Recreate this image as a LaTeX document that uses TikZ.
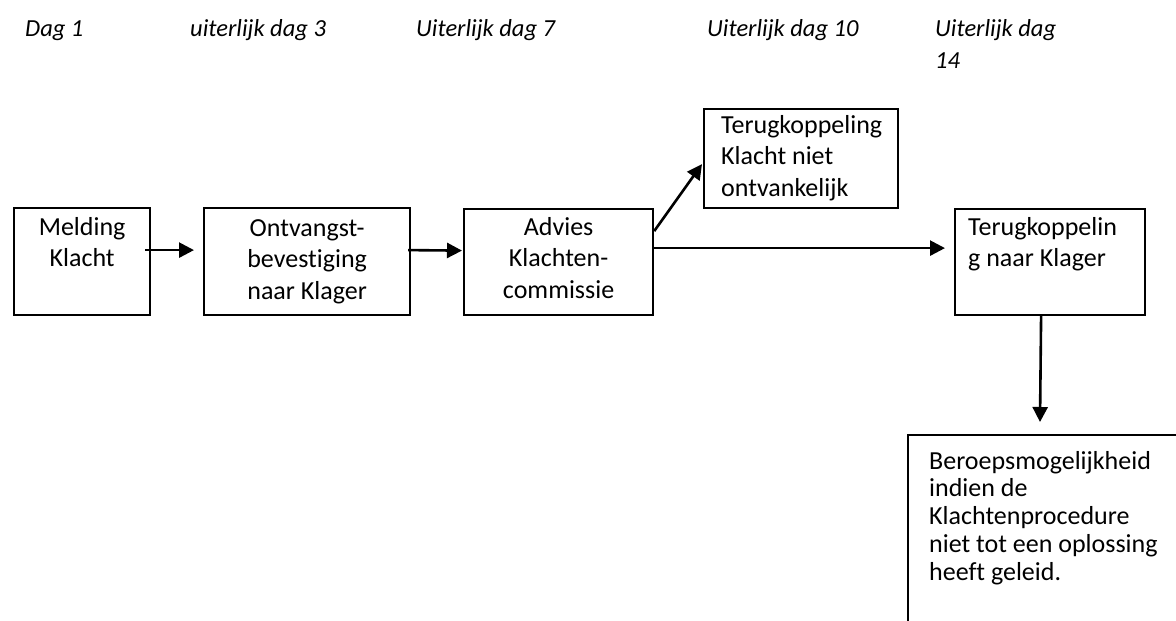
\documentclass[tikz,border=0pt]{standalone}
\usepackage{fontspec}
\setmainfont{Carlito}[Ligatures={NoCommon}]
\usetikzlibrary{arrows.meta}
\begin{document}
\begin{tikzpicture}[x=1pt,y=-1pt,
  box/.style={draw,line width=2.2pt,rectangle,anchor=north west,inner sep=0pt},
  txt/.style={inner sep=0pt,font={\fontsize{26}{31.5}\selectfont}},
  hdr/.style={inner sep=0pt,anchor=north west,align=left,font={\fontsize{24.5}{32}\selectfont\itshape}},
  arr/.style={line width=2.6pt,-{Triangle[length=15pt,width=15pt]}}]
\useasboundingbox (0,0) rectangle (1176,621);
\clip (0,0) rectangle (1176,621);
\fill[white] (0,0) rectangle (1176,621);
% headers (first baseline at 36 -> top = 36-20)
\node[hdr] (h1) at (25,16) {\rule{0pt}{20pt}Dag 1};
\node[hdr] (h2) at (190,16) {\rule{0pt}{20pt}uiterlijk dag 3};
\node[hdr] (h3) at (416,16) {\rule{0pt}{20pt}Uiterlijk dag 7};
\node[hdr] (h4) at (707,16) {\rule{0pt}{20pt}Uiterlijk dag 10};
\node[hdr] (h5) at (935,16) {\rule{0pt}{20pt}Uiterlijk dag\\14};
% boxes
\node[box,minimum width=136pt,minimum height=107pt] (b1) at (13,207) {};
\node[box,minimum width=206pt,minimum height=107pt] (b2) at (203,207) {};
\node[box,minimum width=189pt,minimum height=106pt] (b3) at (463,208) {};
\node[box,minimum width=194pt,minimum height=99pt] (b4) at (703,108) {};
\node[box,minimum width=190pt,minimum height=106pt] (b5) at (954,208) {};
\node[box,minimum width=300pt,minimum height=250pt] (b6) at (907,434) {};
% box texts
\node[txt,anchor=north,align=center] (t1) at ([yshift=-8pt]b1.north) {\rule{0pt}{20pt}Melding\\Klacht};
\node[txt,anchor=north,align=center] (t2) at ([yshift=-9pt]b2.north) {\rule{0pt}{20pt}Ontvangst-\\bevestiging\\naar Klager};
\node[txt,anchor=north,align=center] (t3) at ([yshift=-7pt]b3.north) {\rule{0pt}{20pt}Advies\\Klachten-\\commissie};
\node[txt,anchor=north west,align=left] (t4) at ([xshift=18pt,yshift=-5pt]b4.north west) {\rule{0pt}{20pt}Terugkoppeling\\Klacht niet\\ontvankelijk};
\node[txt,anchor=north west,align=left] (t5) at ([xshift=14pt,yshift=-7pt]b5.north west) {\rule{0pt}{20pt}Terugkoppelin\\g naar Klager};
\node[txt,anchor=north west,align=left,font={\fontsize{26}{27.7}\selectfont}] (t6) at ([xshift=22pt,yshift=-15pt]b6.north west) {\rule{0pt}{20pt}Beroepsmogelijkheid\\indien de\\Klachtenprocedure\\niet tot een oplossing\\heeft geleid.};
% connectors
\draw[arr] ([xshift=-6pt,yshift=11.5pt]b1.east) -- ([xshift=-9pt,yshift=11.5pt]b2.west);
\draw[arr] ([xshift=-3pt,yshift=11.5pt]b2.east) -- ([xshift=-1pt,yshift=11.5pt]b3.west);
\draw[arr] ([yshift=31pt]b3.east) -- ([xshift=-1pt,yshift=-5.5pt]b4.west);
\draw[arr] ([yshift=14pt]b3.east) -- ([xshift=-9pt,yshift=14pt]b5.west);
\draw[arr] ([xshift=-9pt]b5.south) -- ([xshift=133pt,yshift=12pt]b6.north west);
\end{tikzpicture}
\end{document}
